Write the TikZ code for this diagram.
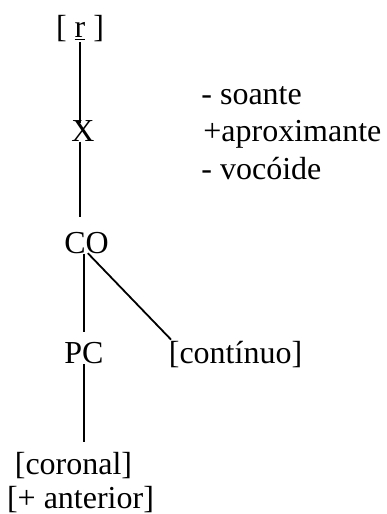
\documentclass[tikz,border=0pt]{standalone}
\usepackage{fontspec}
\setmainfont{Liberation Serif}

\tikzset{
  seg/.style={line width=0.9pt},
  lbl/.style={inner sep=0pt, anchor=base, font=\fontsize{16}{18}\selectfont},
}

\begin{document}
\begin{tikzpicture}
  \begin{scope}[scale=0.17573]
  \useasboundingbox (0,0) rectangle (38.7,-51.4);

  % tree nodes
  \node[lbl] (r) at (8.0,-3.7) {[ \underline{r} ]};
  \node[lbl] (x) at (8.3,-14.1) {X};
  \node[lbl] (co) at (8.65,-25.3) {CO};
  \node[lbl] (pc) at (8.4,-36.3) {PC};
  \node[lbl] (cont) at (23.55,-36.3) {[contínuo]};
  \node[lbl] (coronal) at (7.35,-47.4) {[coronal]};
  \node[lbl] (anterior) at (8.05,-50.8) {[+ anterior]};

  % features of X
  \node[lbl,anchor=base west] (soante) at (20.1,-10.4) {- soante};
  \node[lbl,anchor=base west] (aprox) at (20.3,-14.15) {+aproximante};
  \node[lbl,anchor=base west] (vocoide) at (20.1,-17.9) {- vocóide};

  % association lines
  \draw[seg,shorten >=-1.5pt] ([xshift=-1pt,yshift=-2pt]r.south) -- ([xshift=-1pt]r.south |- x.north);
  \draw[seg,shorten >=7pt] ([xshift=-1pt,yshift=-0.5pt]r.south |- x.south) -- ([xshift=-1pt]r.south |- co.north);
  \draw[seg,shorten >=4.5pt] ([xshift=-0.5pt]pc.north |- co.south) -- ([xshift=-0.5pt]pc.north);
  \draw[seg] ([xshift=3.75pt,yshift=1.5pt]co.south) -- ([xshift=7.5pt,yshift=2pt]cont.north west);
  \draw[seg,shorten >=4.5pt] ([xshift=-0.5pt,yshift=-2pt]pc.south) -- ([xshift=-0.5pt]pc.south |- coronal.north);
  \end{scope}
\end{tikzpicture}
\end{document}
